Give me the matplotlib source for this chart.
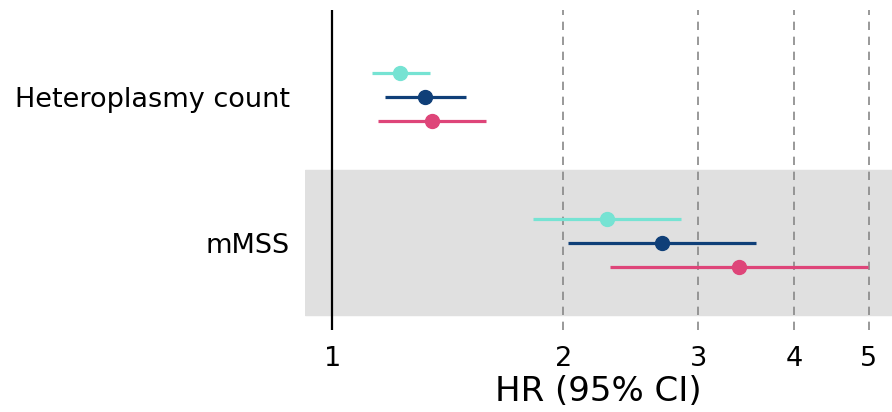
import matplotlib
matplotlib.use("Agg")
import matplotlib.pyplot as plt
import numpy as np

# rows, top to bottom
variables = ["Heteroplasmy count", "mMSS"]
# three models per row (turquoise, dark blue, pink)
colors = ["#76e3d3", "#0f3f78", "#de4579"]
hr = [[1.226, 1.321, 1.349],
      [2.28, 2.69, 3.39]]
ci_low = [[1.127, 1.172, 1.148],
          [1.827, 2.03, 2.30]]
ci_high = [[1.341, 1.495, 1.587],
           [2.85, 3.57, 4.99]]
xticks = [1, 2, 3, 4, 5]

row_y = [1, 0]
offsets = [0.166, 0, -0.166]

fig = plt.figure(figsize=(8.92, 4.12), dpi=100)
ax = fig.add_axes([0.342, 0.199, 0.658, 0.777])
ax.set_xscale("log")
ax.set_xlim(0.922, 5.36)
ax.set_ylim(-0.6, 1.6)

# shade the mMSS row
ax.axhspan(-0.5, 0.5, color="#e0e0e0", zorder=0)

for x in xticks[1:]:
    ax.axvline(x, color="#888888", lw=1.2, linestyle=(0, (5, 4)), zorder=1)
ax.axvline(1, color="black", lw=1.6, zorder=2)

for i, y in enumerate(row_y):
    for j in range(3):
        yy = y + offsets[j]
        ax.plot([ci_low[i][j], ci_high[i][j]], [yy, yy], color=colors[j],
                lw=2.3, solid_capstyle="butt", zorder=3)
        ax.plot(hr[i][j], yy, "o", color=colors[j], ms=10, zorder=4)

ax.set_xticks(xticks)
ax.set_xticklabels([str(t) for t in xticks])
ax.xaxis.set_minor_locator(matplotlib.ticker.NullLocator())
ax.set_yticks(row_y)
ax.set_yticklabels(variables)
ax.tick_params(axis="both", length=0, labelsize=19.5)
ax.tick_params(axis="x", pad=11.5)
ax.tick_params(axis="y", pad=11)
for s in ax.spines.values():
    s.set_visible(False)
ax.set_xlabel("HR (95% CI)", fontsize=24.5, labelpad=2)

fig.savefig("out.png", dpi=100)
